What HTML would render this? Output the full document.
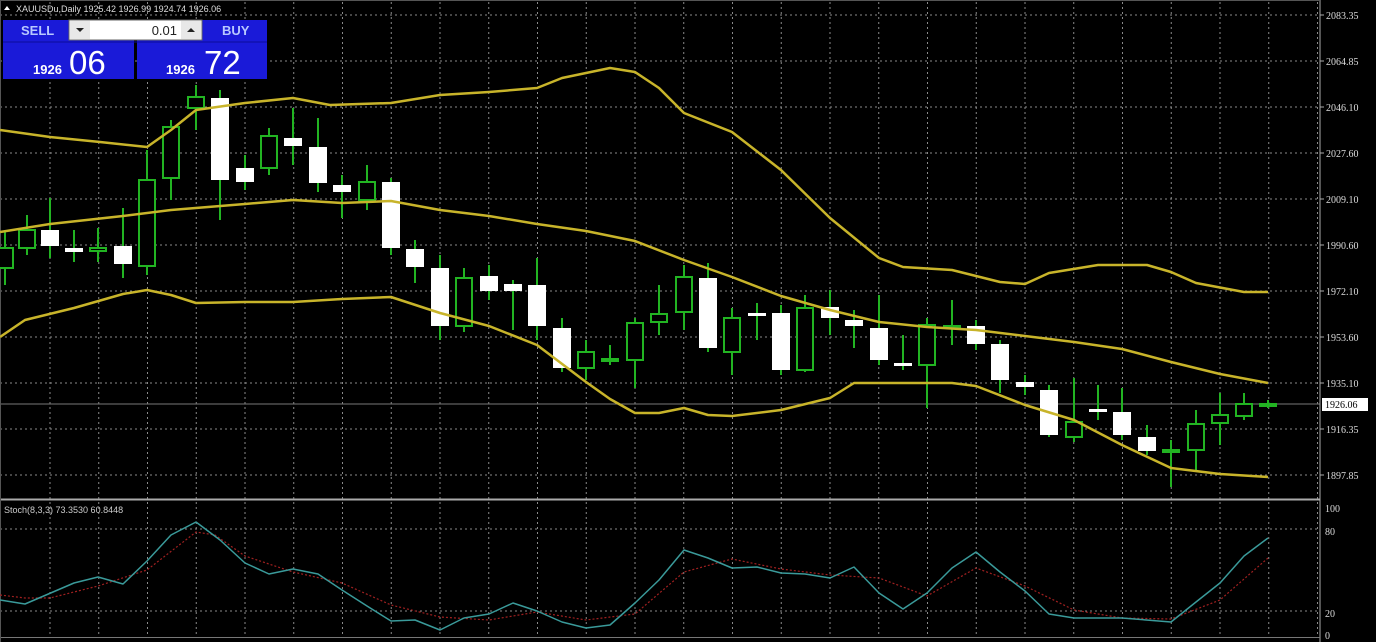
<!DOCTYPE html>
<html><head><meta charset="utf-8"><style>
html,body{margin:0;padding:0;background:#000;width:1376px;height:642px;overflow:hidden;font-family:"Liberation Sans",sans-serif}
</style></head><body>
<svg id="c" width="1376" height="642" xmlns="http://www.w3.org/2000/svg" style="position:absolute;left:0;top:0"></svg>
<script>
const s=document.getElementById('c');let h='';
h+='<rect x="0" y="0" width="1376" height="642" fill="#000"/>';
// grid
for(let i=0;i<27;i++){const x=50+i*48.75;if(x>1318)break;h+=`<line x1="${x}" y1="2" x2="${x}" y2="636" stroke="#8a8a8a" stroke-width="1" stroke-dasharray="2,3"/>`;}
const py=[15,61,107,153,199,245,291,337,383,429,475],pl=['2083.35','2064.85','2046.10','2027.60','2009.10','1990.60','1972.10','1953.60','1935.10','1916.35','1897.85'];
py.forEach((y,i)=>{h+=`<line x1="0" y1="${y}" x2="1320" y2="${y}" stroke="#8a8a8a" stroke-dasharray="2,3"/><line x1="1320" y1="${y}" x2="1324" y2="${y}" stroke="#aaa"/><text x="1326" y="${y+4}" fill="#ddd" font-size="10" font-family="Liberation Serif,serif">${pl[i]}</text>`;});
[[529,'80'],[611,'20']].forEach(a=>{h+=`<line x1="0" y1="${a[0]}" x2="1320" y2="${a[0]}" stroke="#8a8a8a" stroke-dasharray="2,3"/>`;});
[[508,'100'],[531,'80'],[613,'20'],[635,'0']].forEach(a=>{h+=`<text x="1325" y="${a[0]+4}" fill="#ddd" font-size="10" font-family="Liberation Serif,serif">${a[1]}</text>`;});
// price line
h+='<line x1="0" y1="404" x2="1320" y2="404" stroke="#777"/>';
// frame
h+='<line x1="1320" y1="0" x2="1320" y2="642" stroke="#aaa"/><line x1="0" y1="499.5" x2="1320" y2="499.5" stroke="#aaa" stroke-width="2"/><line x1="0" y1="637.5" x2="1320" y2="637.5" stroke="#777"/><line x1="0.5" y1="0" x2="0.5" y2="642" stroke="#555"/><line x1="0" y1="0.5" x2="1320" y2="0.5" stroke="#555"/>';
// bollinger
const up=[[0,130],[50,137],[100,142],[147,147],[171,130],[196,110],[245,103],[293,98],[330,105],[391,103],[440,95],[489,92],[537,88],[562,78],[610,68],[635,72],[659,88],[684,113],[732,132],[781,170],[830,218],[879,258],[903,267],[952,270],[1000,282],[1025,284],[1049,273],[1098,265],[1147,265],[1171,272],[1196,283],[1244,292],[1268,292]];
const md=[[0,232],[50,224],[123,216],[171,210],[245,204],[293,200],[342,203],[391,201],[440,210],[489,216],[537,224],[586,231],[635,241],[684,260],[732,277],[781,296],[830,310],[879,322],[927,327],[976,330],[1025,336],[1074,342],[1122,349],[1171,362],[1220,374],[1268,383]];
const lo=[[0,337],[25,320],[74,308],[123,294],[147,290],[171,295],[196,303],[245,302],[293,302],[342,299],[391,297],[440,313],[489,326],[537,345],[586,382],[610,399],[635,413],[659,413],[684,408],[708,415],[732,416],[781,410],[830,398],[854,383],[903,383],[952,383],[976,386],[1025,405],[1074,420],[1122,445],[1171,468],[1220,474],[1268,477]];
const pl2=(p,c,w,d)=>`<polyline points="${p.map(q=>q.join(',')).join(' ')}" fill="none" stroke="${c}" stroke-width="${w}" ${d?'stroke-dasharray="'+d+'"':''} stroke-linejoin="round"/>`;
// candles [x,bodyTop,bodyBot,wickTop,wickBot,bull]
const cd=[[5,248,268,232,285,1],[27,230,248,215,255,1],[50,230,246,198,258,0],[74,248,252,230,262,0],[98,248,251,228,262,1],[123,246,264,208,278,0],[147,180,266,150,275,1],[171,127,178,120,200,1],[196,97,108,85,130,1],[220,98,180,90,220,0],[245,168,182,155,190,0],[269,136,168,128,175,1],[293,138,146,108,165,0],[318,147,183,118,192,0],[342,185,192,175,218,0],[367,182,200,165,210,1],[391,182,248,178,255,0],[415,249,267,240,283,0],[440,268,326,255,340,0],[464,278,326,268,332,1],[489,276,291,265,300,0],[513,284,291,280,330,0],[537,285,326,258,340,0],[562,328,368,318,372,0],[586,352,368,340,380,1],[610,359,361,345,365,1],[635,323,360,318,388,1],[659,314,322,285,335,1],[684,277,312,265,330,1],[708,278,348,263,352,0],[732,318,352,308,375,1],[757,313,316,303,340,0],[781,313,370,305,375,0],[805,308,370,295,372,1],[830,307,318,290,335,0],[854,320,326,310,348,0],[879,328,360,295,365,0],[903,363,366,335,370,0],[927,325,365,318,408,1],[952,326,328,300,345,1],[976,326,344,320,350,0],[1000,344,380,340,393,0],[1025,382,387,375,395,0],[1049,390,435,385,437,0],[1074,422,437,378,442,1],[1098,409,412,385,420,0],[1122,412,435,388,440,0],[1147,437,451,425,455,0],[1171,450,452,440,487,1],[1196,424,450,410,470,1],[1220,415,423,393,445,1],[1244,404,416,393,420,1],[1268,404,406,400,408,1]];
const G='#22b422';
cd.forEach(c=>{const [x,t,b,wt,wb,bu]=c;h+=`<line x1="${x}" y1="${wt}" x2="${x}" y2="${wb}" stroke="${G}" stroke-width="2"/>`;
if(bu)h+=`<rect x="${x-8}" y="${t}" width="16" height="${Math.max(b-t,1)}" fill="#000" stroke="${G}" stroke-width="2"/>`;
else h+=`<rect x="${x-9}" y="${t}" width="18" height="${Math.max(b-t,2)}" fill="#fff"/>`;});
h+=pl2(up,'#c8b42a',2.5)+pl2(md,'#c8b42a',2.5)+pl2(lo,'#c8b42a',2.5);
// stoch
const sm=[[0,600],[25,604],[74,583],[98,577],[123,584],[147,561],[171,535],[196,522],[220,540],[245,563],[269,574],[293,569],[318,574],[342,590],[367,606],[391,621],[415,620],[440,630],[464,618],[489,614],[513,603],[537,611],[562,622],[586,628],[610,625],[635,603],[659,580],[684,550],[708,558],[732,568],[757,567],[781,573],[805,574],[830,578],[854,567],[879,593],[903,609],[927,593],[952,568],[976,552],[1000,572],[1025,591],[1049,614],[1074,618],[1122,618],[1171,622],[1196,602],[1220,583],[1244,556],[1268,538]];
const sg=[[0,595],[25,598],[50,598],[98,586],[147,570],[196,532],[215,535],[245,556],[293,572],[342,583],[391,605],[440,617],[489,620],[537,612],[586,620],[635,614],[684,572],[732,559],[781,569],[830,575],[879,578],[927,596],[976,568],[1025,586],[1074,610],[1122,618],[1171,619],[1220,600],[1268,558]];
h+=pl2(sg,'#a02020',1.2,'2,2')+pl2(sm,'#3a9a9a',1.5);
h+='<text x="4" y="513" fill="#ccc" font-size="9">Stoch(8,3,3) 73.3530 60.8448</text>';
// header
h+='<polygon points="4,10 7,6 10,10" fill="#fff"/><text x="16" y="12" fill="#ddd" font-size="9">XAUUSDu,Daily  1925.42 1926.99 1924.74 1926.06</text>';
h+='<rect x="3" y="20" width="131" height="59" fill="#1a1ad8"/><rect x="137" y="20" width="130" height="59" fill="#1a1ad8"/><line x1="3" y1="42" x2="267" y2="42" stroke="#0c0c9a" stroke-width="1"/>';
h+='<rect x="69" y="20" width="133" height="20" fill="#fff" stroke="#666"/><rect x="70" y="21" width="20" height="18" fill="#e8e8e8"/><rect x="181" y="21" width="20" height="18" fill="#e8e8e8"/><polygon points="76,28 84,28 80,32" fill="#222"/><polygon points="187,32 195,32 191,28" fill="#222"/><text x="177" y="35" fill="#222" font-size="13" text-anchor="end">0.01</text>';
h+='<text x="21" y="35" fill="#b8c8ff" font-size="13" font-weight="bold">SELL</text><text x="222" y="35" fill="#b8c8ff" font-size="13" font-weight="bold">BUY</text>';
h+='<text x="33" y="74" fill="#fff" font-size="13" font-weight="bold">1926</text><text x="69" y="74" fill="#fff" font-size="33">06</text>';
h+='<text x="166" y="74" fill="#fff" font-size="13" font-weight="bold">1926</text><text x="204" y="74" fill="#fff" font-size="33">72</text>';
h+='<rect x="1322" y="398" width="46" height="13" fill="#fff"/><text x="1325" y="408" fill="#000" font-size="10" font-family="Liberation Serif,serif">1926.06</text>';
s.innerHTML=h;
</script>
</body></html>
